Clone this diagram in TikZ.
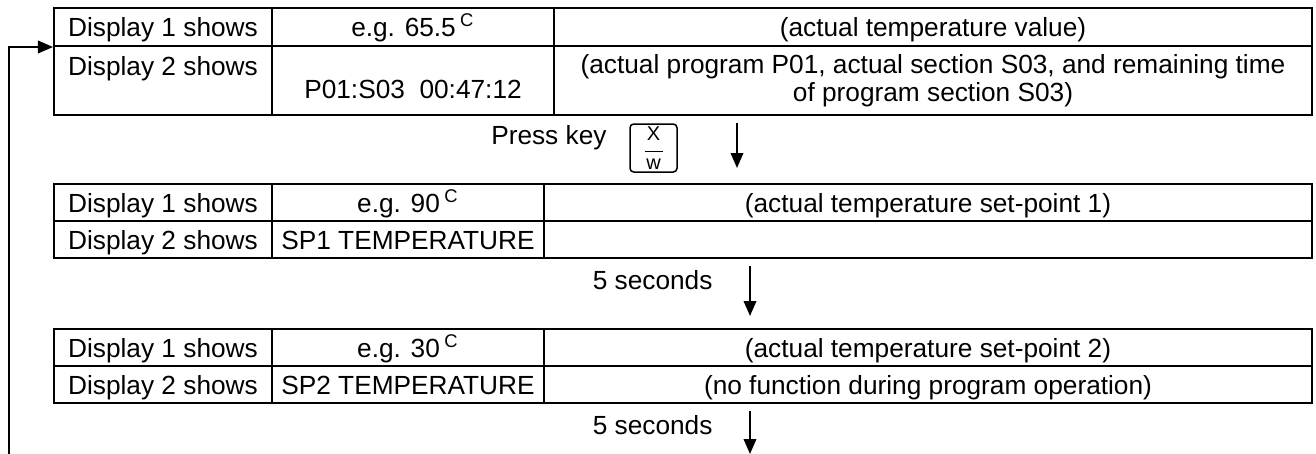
\documentclass[tikz,border=0pt]{standalone}
\usepackage{fontspec}
\setmainfont{Liberation Sans}
\usetikzlibrary{arrows.meta,positioning}
\tikzset{
  cell/.style={draw, line width=0.8pt, inner sep=0pt, anchor=north west,
    text height=11.2pt, text depth=3.6pt},
  colA/.style={cell, minimum width=87.2pt},
  colB/.style={cell, minimum width=108.8pt},
  colC/.style={cell, minimum width=307.2pt},
  lbl/.style={inner sep=0pt, text height=7.6pt, text depth=2.2pt},
  keybox/.style={draw, line width=0.6pt, rounded corners=1.5pt, inner sep=0pt,
    minimum width=18.8pt, minimum height=19.2pt, align=center,
    font=\fontsize{8}{7.4}\selectfont},
  flowarr/.style={-{Triangle[length=6pt,width=5pt]}, line width=0.8pt}
}
\newcommand{\degc}{\,\textsuperscript{C}}
\begin{document}
\begin{tikzpicture}[x=0.4pt, y=-0.4pt, font=\fontsize{10.5}{12.6}\selectfont]
  \useasboundingbox (0,0) rectangle (1316,454);
  % first table: program running
  \node[colA, text height=11.4pt, text depth=3.8pt] (t1a) at (53,7) {Display 1 shows};
  \node[cell, minimum width=112.8pt, text height=11.4pt, text depth=3.8pt] (t1b) at (271,7) {e.g. 65.5\degc};
  \node[cell, minimum width=303.2pt, text height=11.4pt, text depth=3.8pt] (t1c) at (553,7) {(actual temperature value)};
  \node[colA, text height=11.6pt, text depth=16pt] (t1d) at (53,45) {Display 2 shows};
  \node[cell, minimum width=112.8pt, text height=20.8pt, text depth=6.8pt] (t1e) at (271,45) {P01:S03~~00:47:12};
  \node[cell, minimum width=303.2pt, minimum height=27.6pt, text height=, text depth=, align=center,
    font=\fontsize{10.5}{11.4}\selectfont] (t1f) at (553,45)
    {(actual program P01, actual section S03, and remaining time\\of program section S03)};
  % key press
  \node[keybox] (key) at (653.5,148) {X\\[-2.6pt]\rule{7.2pt}{0.5pt}\\[-0.6pt]w};
  \node[lbl, anchor=east] (presslbl) at (607,138) {Press key};
  \coordinate (a1top) at (737,123);
  \coordinate (a1bot) at (737,168);
  \draw[flowarr] (a1top) -- (a1bot);
  % second table: set-point 1
  \node[colA] (t2a) at (53,183) {Display 1 shows};
  \node[colB] (t2b) at (271,183) {e.g. 90\degc};
  \node[colC] (t2c) at (543,183) {(actual temperature set-point 1)};
  \node[colA] (t2d) at (53,220) {Display 2 shows};
  \node[colB] (t2e) at (271,220) {SP1 TEMPERATURE};
  \node[colC] (t2f) at (543,220) {};
  \coordinate (a2top) at (750,266);
  \coordinate (a2mid) at (750,283);
  \coordinate (a2bot) at (750,316);
  \node[lbl, left=14.8pt of a2mid] (wait1) {5 seconds};
  \draw[flowarr] (a2top) -- (a2bot);
  % third table: set-point 2
  \node[colA] (t3a) at (53,328) {Display 1 shows};
  \node[colB] (t3b) at (271,328) {e.g. 30\degc};
  \node[colC] (t3c) at (543,328) {(actual temperature set-point 2)};
  \node[colA] (t3d) at (53,365) {Display 2 shows};
  \node[colB] (t3e) at (271,365) {SP2 TEMPERATURE};
  \node[colC] (t3f) at (543,365) {(no function during program operation)};
  \coordinate (a3top) at (750,411);
  \coordinate (a3mid) at (750,428);
  \coordinate (a3bot) at (750,454);
  \node[lbl, left=14.8pt of a3mid] (wait2) {5 seconds};
  \draw[flowarr] (a3top) -- (a3bot);
  % back to the start
  \coordinate (loopin) at (9,454);
  \draw[flowarr] (loopin) |- (t1a.south west);
\end{tikzpicture}
\end{document}
